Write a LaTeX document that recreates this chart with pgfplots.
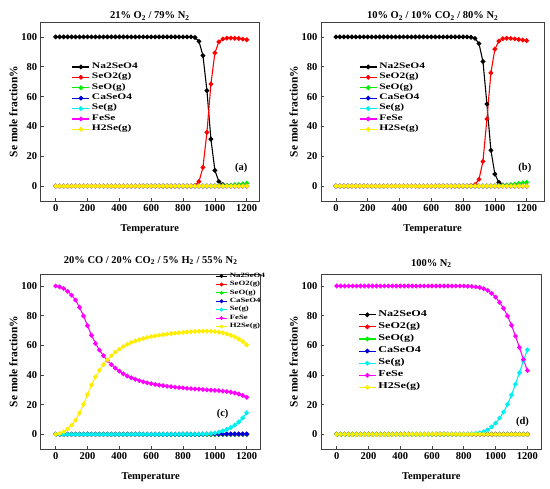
\documentclass[border=0pt]{standalone}
\usepackage{pgfplots}
\pgfplotsset{compat=1.18}
\usepackage{pgfplotstable}
\usepackage{fontspec}
\setmainfont{Liberation Serif}
\newfontfamily\legfont[FakeStretch=1.35]{Liberation Serif}
\definecolor{cBlack}{RGB}{0,0,0}
\definecolor{cRed}{RGB}{255,0,0}
\definecolor{cGreen}{RGB}{0,240,0}
\definecolor{cBlue}{RGB}{0,0,220}
\definecolor{cCyan}{RGB}{0,240,240}
\definecolor{cMag}{RGB}{255,0,255}
\definecolor{cYel}{RGB}{255,238,0}

% T Na SeO2 SeO Ca Se FeSe H2Se
\pgfplotstableread{
T Na SeOtwo SeO Ca Se FeSe HtwoSe
0 100 0 0 0 0 0 0
25 100 0 0 0 0 0 0
50 100 0 0 0 0 0 0
75 100 0 0 0 0 0 0
100 100 0 0 0 0 0 0
125 100 0 0 0 0 0 0
150 100 0 0 0 0 0 0
175 100 0 0 0 0 0 0
200 100 0 0 0 0 0 0
225 100 0 0 0 0 0 0
250 100 0 0 0 0 0 0
275 100 0 0 0 0 0 0
300 100 0 0 0 0 0 0
325 100 0 0 0 0 0 0
350 100 0 0 0 0 0 0
375 100 0 0 0 0 0 0
400 100 0 0 0 0 0 0
425 100 0 0 0 0 0 0
450 100 0 0 0 0 0 0
475 100 0 0 0 0 0 0
500 100 0 0 0 0 0 0
525 100 0 0 0 0 0 0
550 100 0 0 0 0 0 0
575 100 0 0 0 0 0 0
600 100 0 0 0 0 0 0
625 100 0 0 0 0 0 0
650 100 0 0 0 0 0 0
675 100 0 0 0 0 0 0
700 100 0 0 0 0 0 0
725 100 0 0 0 0 0 0
750 100 0 0 0 0 0 0
775 100 0 0 0 0 0 0
800 100 0 0 0 0 0 0
825 100 0 0 0 0 0 0
850 100 0 0 0 0 0 0
875 99.6 0.4 0 0 0 0 0
900 97 3 0 0 0 0 0
925 87.5 12.5 0 0 0 0 0
950 64 36 0 0 0 0 0
975 31.5 68.4 0.1 0 0 0 0
1000 10.5 89.3 0.2 0 0 0 0
1025 3 96.7 0.3 0 0 0 0
1050 1 98.6 0.4 0 0 0 0
1075 0.3 99.2 0.5 0 0 0 0
1100 0.1 99.2 0.7 0 0 0 0
1125 0 99.1 0.9 0 0 0 0
1150 0 98.9 1.1 0 0 0 0
1175 0 98.5 1.5 0 0 0 0
1200 0 98.1 1.9 0 0 0 0
}\tabA

\pgfplotstableread{
T Na SeOtwo SeO Ca Se FeSe HtwoSe
0 100 0 0 0 0 0 0
25 100 0 0 0 0 0 0
50 100 0 0 0 0 0 0
75 100 0 0 0 0 0 0
100 100 0 0 0 0 0 0
125 100 0 0 0 0 0 0
150 100 0 0 0 0 0 0
175 100 0 0 0 0 0 0
200 100 0 0 0 0 0 0
225 100 0 0 0 0 0 0
250 100 0 0 0 0 0 0
275 100 0 0 0 0 0 0
300 100 0 0 0 0 0 0
325 100 0 0 0 0 0 0
350 100 0 0 0 0 0 0
375 100 0 0 0 0 0 0
400 100 0 0 0 0 0 0
425 100 0 0 0 0 0 0
450 100 0 0 0 0 0 0
475 100 0 0 0 0 0 0
500 100 0 0 0 0 0 0
525 100 0 0 0 0 0 0
550 100 0 0 0 0 0 0
575 100 0 0 0 0 0 0
600 100 0 0 0 0 0 0
625 100 0 0 0 0 0 0
650 100 0 0 0 0 0 0
675 100 0 0 0 0 0 0
700 100 0 0 0 0 0 0
725 100 0 0 0 0 0 0
750 100 0 0 0 0 0 0
775 100 0 0 0 0 0 0
800 100 0 0 0 0 0 0
825 100 0 0 0 0 0 0
850 99.8 0.2 0 0 0 0 0
875 99 1 0 0 0 0 0
900 95.5 4.5 0 0 0 0 0
925 83.5 16.5 0 0 0 0 0
950 55 45 0 0 0 0 0
975 24 75.9 0.1 0 0 0 0
1000 8 91.8 0.2 0 0 0 0
1025 2.5 97.2 0.3 0 0 0 0
1050 0.7 98.8 0.5 0 0 0 0
1075 0.2 99.1 0.7 0 0 0 0
1100 0 99 1.0 0 0 0 0
1125 0 98.7 1.3 0 0 0 0
1150 0 98.3 1.7 0 0 0 0
1175 0 97.9 2.1 0 0 0 0
1200 0 97.5 2.5 0 0 0 0
}\tabB

\pgfplotstableread{
T Na SeOtwo SeO Ca Se FeSe HtwoSe
0 0 0 0 0 0 100 0
25 0 0 0 0 0 99.4 0.6
50 0 0 0 0 0 98.3 1.7
75 0 0 0 0 0 96.4 3.6
100 0 0 0 0 0 93.8 6.2
125 0 0 0 0 0 90.5 9.5
150 0 0 0 0 0 85.6 14.4
175 0 0 0 0 0 79.8 20.2
200 0 0 0 0 0 73.2 26.8
225 0 0 0 0 0 66.8 33.2
250 0 0 0 0 0 61.3 38.7
275 0 0 0 0 0 56.8 43.2
300 0 0 0 0 0 53.0 47.0
325 0 0 0 0 0 49.8 50.2
350 0 0 0 0 0 47.0 53.0
375 0 0 0 0 0 44.6 55.4
400 0 0 0 0 0 42.6 57.4
425 0 0 0 0 0 40.8 59.2
450 0 0 0 0 0 39.3 60.7
475 0 0 0 0 0 38.1 61.9
500 0 0 0 0 0 37.1 62.9
525 0 0 0 0 0 36.2 63.8
550 0 0 0 0 0 35.4 64.6
575 0 0 0 0 0 34.7 65.3
600 0 0 0 0 0 34.1 65.9
625 0 0 0 0 0 33.6 66.4
650 0 0 0 0 0 33.2 66.8
675 0 0 0 0 0 32.8 67.2
700 0 0 0 0 0 32.4 67.6
725 0 0 0 0 0 32.1 67.9
750 0 0 0 0 0 31.8 68.2
775 0 0 0 0 0 31.5 68.5
800 0 0 0 0 0 31.3 68.7
825 0 0 0 0 0 31.0 69.0
850 0 0 0 0 0 30.8 69.2
875 0 0 0 0 0 30.6 69.4
900 0 0 0 0 0.05 30.4 69.5
925 0 0 0 0.1 0.1 30.2 69.6
950 0 0 0 0.2 0.2 30.0 69.6
975 0 0 0 0.2 0.5 29.8 69.5
1000 0 0 0 0.2 0.9 29.6 69.3
1025 0 0 0 0.2 1.5 29.4 68.9
1050 0 0 0 0.2 2.3 29.1 68.4
1075 0 0 0 0.2 3.3 28.8 67.7
1100 0 0 0 0.2 4.6 28.4 66.8
1125 0 0 0 0.2 6.2 27.9 65.7
1150 0 0 0 0.2 8.3 27.2 64.3
1175 0 0 0 0.2 11.0 26.2 62.6
1200 0 0 0 0.2 14.5 25.0 60.3
}\tabC

\pgfplotstableread{
T Na SeOtwo SeO Ca Se FeSe HtwoSe
0 0 0 0 0 0 100 0
25 0 0 0 0 0 100 0
50 0 0 0 0 0 100 0
75 0 0 0 0 0 100 0
100 0 0 0 0 0 100 0
125 0 0 0 0 0 100 0
150 0 0 0 0 0 100 0
175 0 0 0 0 0 100 0
200 0 0 0 0 0 100 0
225 0 0 0 0 0 100 0
250 0 0 0 0 0 100 0
275 0 0 0 0 0 100 0
300 0 0 0 0 0 100 0
325 0 0 0 0 0 100 0
350 0 0 0 0 0 100 0
375 0 0 0 0 0 100 0
400 0 0 0 0 0 100 0
425 0 0 0 0 0 100 0
450 0 0 0 0 0 100 0
475 0 0 0 0 0 100 0
500 0 0 0 0 0 100 0
525 0 0 0 0 0 100 0
550 0 0 0 0 0 100 0
575 0 0 0 0 0 100 0
600 0 0 0 0 0 100 0
625 0 0 0 0 0 100 0
650 0 0 0 0 0 100 0
675 0 0 0 0 0 100 0
700 0 0 0 0 0 100 0
725 0 0 0 0 0 100 0
750 0 0 0 0 0 100 0
775 0 0 0 0 0 100 0
800 0 0 0 0 0 100 0
825 0 0 0 0 0.2 99.8 0
850 0 0 0 0 0.3 99.7 0
875 0 0 0 0 0.6 99.4 0
900 0 0 0 0 1.0 99.0 0
925 0 0 0 0 1.8 98.2 0
950 0 0 0 0 3.0 97.0 0
975 0 0 0 0 5.0 95.0 0
1000 0 0 0 0 7.5 92.5 0
1025 0 0 0 0 11.0 89.0 0
1050 0 0 0 0 15.0 85.0 0
1075 0 0 0 0 20.2 79.8 0
1100 0 0 0 0 26.5 73.5 0
1125 0 0 0 0 33.8 66.2 0
1150 0 0 0 0 41.5 58.5 0
1175 0 0 0 0 49.5 50.5 0
1200 0 0 0 0 57.0 43.0 0
}\tabD

\pgfplotsset{
  panel/.style={
    scale only axis,
    ymin=-10, ymax=110,
    xtick={0,200,...,1200}, ytick={0,20,...,100},
    tick align=inside, tick pos=left, major tick length=3pt,
    axis line style={black!75, line width=0.8pt},
    tick style={black!75, line width=0.7pt},
    /pgf/number format/assume math mode=true,
    /pgf/number format/1000 sep={},
    ticklabel style={font=\bfseries\fontsize{10.5}{12}\selectfont},
    xlabel={Temperature}, ylabel={Se mole fraction\%},
    xlabel style={font=\bfseries\fontsize{10.5}{12}\selectfont, yshift=-6pt},
    ylabel style={font=\bfseries\fontsize{11.5}{13}\selectfont, yshift=-3pt},
    title style={font=\bfseries\fontsize{10.5}{12}\selectfont},
    legend cell align=left,
    legend style={draw=none, fill=none, inner sep=0pt, row sep=0pt,
      /tikz/every odd column/.append style={column sep=2pt}},
    clip=false,
  },
  ser/.style={mark=*, mark size=1.8pt, line width=1.1pt, mark options={solid}},
  leglong/.style={legend image code/.code={\draw[mark repeat=2,mark phase=2,##1] plot coordinates {(0pt,0pt) (8.5pt,0pt) (17pt,0pt)};}},
  legshort/.style={legend image code/.code={\draw[mark repeat=2,mark phase=2,##1, mark size=1.3pt] plot coordinates {(0pt,0pt) (5.8pt,0pt) (11.6pt,0pt)};}},
}

\newcommand{\allseries}[1]{%
  \addplot[ser, cBlack] table[x=T,y=Na]{#1};
  \addplot[ser, cRed] table[x=T,y=SeOtwo]{#1};
  \addplot[ser, cGreen] table[x=T,y=SeO]{#1};
  \addplot[ser, cBlue] table[x=T,y=Ca]{#1};
  \addplot[ser, cCyan] table[x=T,y=Se]{#1};
  \addplot[ser, cMag] table[x=T,y=FeSe]{#1};
  \addplot[ser, cYel] table[x=T,y=HtwoSe]{#1};
  \legend{Na2SeO4,SeO2(g),SeO(g),CaSeO4,Se(g),FeSe,H2Se(g)}
}

\begin{document}
\begin{tikzpicture}[x=1pt,y=1pt]
\path[use as bounding box] (0,0) rectangle (550,489);

% (a)
\begin{axis}[panel, at={(40.7pt,288pt)}, anchor=south west,
  width=218.3pt, height=179pt, xmin=-94, xmax=1277,
  title={21\% O\textsubscript{2} / 79\% N\textsubscript{2}},
  title style={yshift=-8pt},
  leglong,
  legend style={at={(0.142,0.779)}, anchor=north west,
    font=\legfont\bfseries\fontsize{8.5}{10}\selectfont,
    nodes={inner sep=0pt, text height=6.5pt, text depth=3.9pt}}]
\allseries{\tabA}
\node[font=\bfseries\fontsize{10.5}{12}\selectfont] at (axis cs:1165,12) {(a)};
\end{axis}

% (b)
\begin{axis}[panel, at={(321pt,288pt)}, anchor=south west,
  width=223.3pt, height=179pt, xmin=-94, xmax=1311,
  title={10\% O\textsubscript{2} / 10\% CO\textsubscript{2} / 80\% N\textsubscript{2}},
  title style={yshift=-8pt},
  leglong,
  legend style={at={(0.170,0.779)}, anchor=north west,
    font=\legfont\bfseries\fontsize{8.5}{10}\selectfont,
    nodes={inner sep=0pt, text height=6.5pt, text depth=3.9pt}}]
\allseries{\tabB}
\node[font=\bfseries\fontsize{10.5}{12}\selectfont] at (axis cs:1189,12) {(b)};
\end{axis}

% (c)
\begin{axis}[panel, at={(40.7pt,40pt)}, anchor=south west,
  width=220pt, height=174.7pt, xmin=-94, xmax=1288, ymin=-9.9, ymax=107.9,
  title={20\% CO / 20\% CO\textsubscript{2} / 5\% H\textsubscript{2} / 55\% N\textsubscript{2}},
  title style={yshift=0pt},
  legshort,
  legend style={at={(0.792,1.015)}, anchor=north west,
    font=\legfont\bfseries\fontsize{6.5}{8}\selectfont,
    nodes={inner sep=0pt, text height=5.4pt, text depth=3.0pt}}]
\allseries{\tabC}
\node[font=\bfseries\fontsize{10.5}{12}\selectfont] at (axis cs:1049,13.5) {(c)};
\end{axis}

% (d)
\begin{axis}[panel, at={(321pt,40pt)}, anchor=south west,
  width=220.7pt, height=174.7pt, xmin=-99, xmax=1290, ymin=-9.9, ymax=107.9,
  title={100\% N\textsubscript{2}},
  title style={yshift=-3pt},
  leglong,
  legend style={at={(0.168,0.804)}, anchor=north west,
    font=\legfont\bfseries\fontsize{9}{11}\selectfont,
    nodes={inner sep=0pt, text height=7.5pt, text depth=4.6pt}}]
\allseries{\tabD}
\node[font=\bfseries\fontsize{10.5}{12}\selectfont] at (axis cs:1169,8.5) {(d)};
\end{axis}
\end{tikzpicture}
\end{document}
